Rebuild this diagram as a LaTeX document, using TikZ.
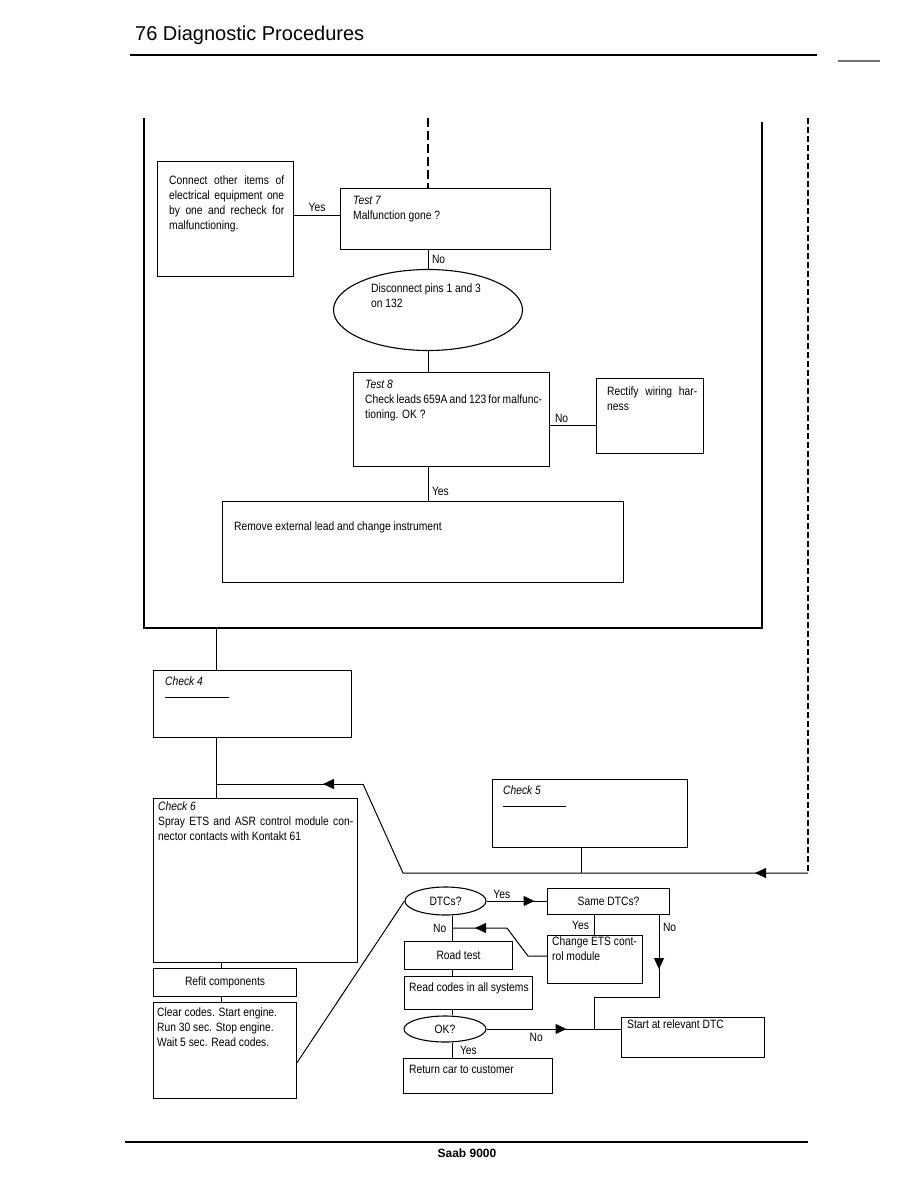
\documentclass[tikz,border=0pt]{standalone}
\usepackage{fontspec}
\setmainfont{Liberation Sans}
\newfontfamily\narrowsans{Liberation Sans}[FakeStretch=0.85]
\usetikzlibrary{arrows.meta, positioning, shapes.geometric, decorations.markings}
\newcommand\bxfont{\narrowsans\fontsize{12.1}{15}\selectfont}
\newcommand\fullline[2]{\hbox to #1pt{#2}}
\tikzset{
  pbox/.style   = {draw=black, line width=1.1pt, inner sep=0pt, anchor=north west, font=\bxfont},
  ptxt/.style   = {font=\bxfont, inner sep=0pt, anchor=north west, align=left},
  oval/.style   = {draw=black, ellipse, line width=1.1pt, inner sep=0pt, font=\bxfont},
  ln/.style     = {draw=black, line width=1pt},
  rim/.style    = {draw=black, line width=2.8pt},
  lab/.style    = {font=\bxfont, inner sep=1.5pt},
  midtip/.style = {postaction={decoration={markings,
                     mark=at position #1 with {\arrow{Triangle[length=11pt, width=10pt]}}}, decorate}},
}
\begin{document}
\begin{tikzpicture}[x=1pt, y=-1pt]
\useasboundingbox (0,0) rectangle (918,1188);

% --- page head and foot ---------------------------------------------------
\node[font=\fontsize{20}{24}\selectfont, anchor=base west, inner sep=0pt] (title) at (135,41) {76 Diagnostic Procedures};
\draw[line width=1.1pt] (130,55) -- (817,55);
\draw[line width=1.1pt, black!55] (838,61) -- (880,61);
\draw[line width=1.1pt] (125,1142) -- (808,1142);
\node[font=\fontsize{12}{14}\selectfont\bfseries, anchor=base, inner sep=0pt] (foot) at (467,1157) {Saab 9000};

% --- outer frame ------------------------------------------------------------
\draw[rim] (144,118) -- (144,628) -- (762,628) -- (762,122);

% --- test 7 / test 8 block ---------------------------------------------------
\coordinate (din) at (428,118);
\node[pbox, minimum width=210, minimum height=61] (t7) at (340,188) {};
\node[ptxt] at ([shift={(13,8)}]t7.north west) {\textit{Test 7}\\Malfunction gone ?};
\node[pbox, minimum width=136, minimum height=115] (conn) at (157,161) {};
\node[ptxt] at ([shift={(12,15)}]conn.north west)
  {\fullline{115}{Connect other items of}\\\fullline{115}{electrical equipment one}\\
   \fullline{115}{by one and recheck for}\\malfunctioning.};
\node[oval, minimum width=189, minimum height=81] (disc) at (428,310) {};
\node[ptxt] at ([shift={(-57,-26)}]disc.center) {Disconnect pins 1 and 3\\on 132};
\node[pbox, minimum width=196, minimum height=94] (t8) at (353,372) {};
\node[ptxt] at ([shift={(12,8)}]t8.north west)
  {\textit{Test 8}\\\fullline{177}{Check leads 659A and 123 for malfunc-}\\tioning. OK ?};
\node[pbox, minimum width=107, minimum height=75] (rect) at (596,378) {};
\node[ptxt] at ([shift={(11,9)}]rect.north west) {\fullline{90}{Rectify wiring har-}\\ness};
\node[pbox, minimum width=401, minimum height=81] (rem) at (222,501) {};
\node[ptxt] at ([shift={(12,21)}]rem.north west) {Remove external lead and change instrument};

\draw[ln, line width=2.6pt, dash pattern=on 9pt off 4pt] (din) -- (din |- t7.north);
\coordinate (y7) at ([shift={(0,27)}]t7.north west);
\draw[ln] (y7) -- (y7 -| conn.east) node[lab, midway, above=1pt] {Yes};
\draw[ln] (t7.south -| din) -- (disc.north) node[lab, midway, right=2pt] {No};
\draw[ln] (disc.south) -- (disc.south |- t8.north);
\coordinate (n8) at ([shift={(0,53)}]t8.north east);
\draw[ln] (n8) -- (n8 -| rect.west) node[lab, pos=0.25, above] {No};
\draw[ln] (t8.south -| din) -- (din |- rem.north) node[lab, pos=0.72, right=2pt] {Yes};

% --- checks 4, 5, 6 ----------------------------------------------------------
\coordinate (f4) at (216,628);
\node[pbox, minimum width=198, minimum height=67] (c4) at (153,670) {};
\node[ptxt] at ([shift={(12,7)}]c4.north west) {\textit{Check 4}};
\draw[ln] ([shift={(12,27)}]c4.north west) -- ++(64,0);
\node[pbox, minimum width=195, minimum height=68] (c5) at (492,779) {};
\node[ptxt] at ([shift={(11,7)}]c5.north west) {\textit{Check 5}};
\draw[ln] ([shift={(11,27)}]c5.north west) -- ++(63,0);
\node[pbox, minimum width=204, minimum height=164] (c6) at (153,798) {};
\node[ptxt] at ([shift={(5,4)}]c6.north west)
  {\textit{Check 6}\\\fullline{195}{Spray ETS and ASR control module con-}\\nector contacts with Kontakt 61};

\draw[ln] (f4) -- (f4 |- c4.north);
\draw[ln] (f4 |- c4.south) -- (f4 |- c6.north);
\coordinate (dtop) at (808,118);
\coordinate (dbot) at (808,873);
\coordinate (lb) at (403,873);
\coordinate (lt) at (363,784);
\coordinate (v5) at ([shift={(-9,0)}]c5.south);
\draw[ln, line width=1.3pt, dash pattern=on 6pt off 3pt] (dtop) -- (dbot);
\draw[ln, midtip=53pt] (dbot) -- (lb) -- (lt);
\draw[ln, midtip=40pt] (lt) -- (f4 |- lt);
\draw[ln] (v5) -- (v5 |- dbot);

% --- refit and read-out chain ---------------------------------------------
\coordinate (cx) at (221,0);
\node[pbox, minimum width=143, minimum height=28] (refit) at (153,968) {Refit components};
\node[pbox, minimum width=143, minimum height=96] (clr) at (153,1002) {};
\node[ptxt] at ([shift={(4,6)}]clr.north west)
  {Clear codes. Start engine.\\Run 30 sec. Stop engine.\\Wait 5 sec. Read codes.};
\draw[ln] (cx |- c6.south) -- (cx |- refit.north);
\draw[ln] (cx |- refit.south) -- (cx |- clr.north);

\coordinate (vx) at (452,0);
\coordinate (sx) at (594,0);
\coordinate (nx) at (659,0);
\node[oval, minimum width=81, minimum height=28] (dtc) at (445.5,901) {DTCs?};
\node[pbox, minimum width=122, minimum height=26] (same) at (547,888) {Same DTCs?};
\node[pbox, minimum width=95, minimum height=48] (chg) at (547,935) {};
\node[ptxt] at ([shift={(5,2)}]chg.north west) {Change ETS cont-\\rol module};
\node[pbox, minimum width=108, minimum height=28] (road) at (404,941) {Road test};
\node[pbox, minimum width=128, minimum height=33] (read) at (404,976) {};
\node[ptxt] at ([shift={(5,7)}]read.north west) {Read codes in all systems};
\node[oval, minimum width=82, minimum height=26] (ok) at (445,1029) {OK?};
\node[pbox, minimum width=149, minimum height=35] (ret) at (403,1058) {};
\node[ptxt] at ([shift={(6,7)}]ret.north west) {Return car to customer};
\node[pbox, minimum width=143, minimum height=40] (start) at (621,1017) {};
\node[ptxt] at ([shift={(6,3)}]start.north west) {Start at relevant DTC};

\coordinate (cd) at ([shift={(0,12)}]clr.east);
\draw[ln] (cd) -- (dtc.west);
\draw[ln, midtip=48pt] (dtc.east) -- (dtc.east -| same.west)
  node[lab, pos=0.08, anchor=south west] {Yes};
\draw[ln] (vx |- dtc.south) -- (vx |- road.north);
\node[lab, anchor=east] at ([shift={(-4,928)}]vx) {No};
\coordinate (jc) at (452,928);
\coordinate (k1) at (507,928);
\coordinate (k2) at (528,956);
\draw[ln, midtip=86pt] (chg.west |- k2) -- (k2) -- (k1) -- (jc);
\draw[ln] (sx |- same.south) -- (sx |- chg.north) node[lab, midway, left=3pt] {Yes};
\draw[ln] (vx |- road.south) -- (vx |- read.north);
\draw[ln] (vx |- read.south) -- (vx |- ok.north);
\draw[ln] (vx |- ok.south) -- (vx |- ret.north) node[lab, midway, right=6pt] {Yes};
\draw[ln, midtip=80pt] (ok.east) -- (ok.east -| start.west) node[lab, pos=0.37, below=2pt] {No};
\coordinate (nb) at (659,997);
\coordinate (sb) at (594,997);
\draw[ln, midtip=54pt] (nx |- same.south) -- node[lab, pos=0.15, right=2pt] {No} (nb) -- (sb) -- (sb |- ok.east);
\end{tikzpicture}
\end{document}
